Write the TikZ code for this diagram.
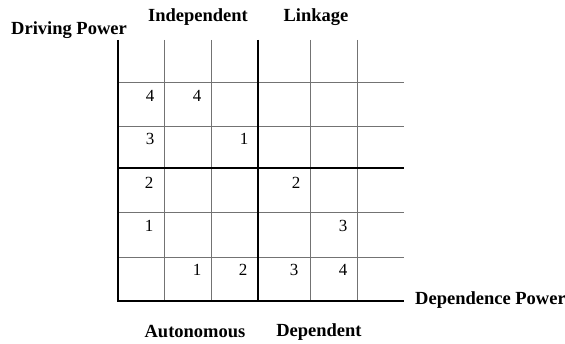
\documentclass[tikz,border=0pt]{standalone}
\usepackage{fontspec}
\setmainfont{Liberation Serif}
\begin{document}
\begin{tikzpicture}[x=1pt,y=-1pt,
  thin grid/.style={draw=black!55,line width=0.9pt},
  thick axis/.style={draw=black,line width=2.6pt},
  num/.style={font=\fontsize{17}{17}\selectfont,inner sep=0pt},
  lbl/.style={font=\fontsize{18.5}{18.5}\selectfont\bfseries,inner sep=0pt}]
\useasboundingbox (0,0) rectangle (565,344);
% thin grid lines
\foreach \x in {164,211,310,357} \draw[thin grid] (\x,40) -- (\x,301);
\foreach \y in {82,126,212,257} \draw[thin grid] (118,\y) -- (404,\y);
% thick lines
\draw[thick axis] (258,40) -- (258,301);
\draw[thick axis] (118,168) -- (404,168);
\draw[thick axis] (118,40) -- (118,301) -- (404,301);
% numbers
\node[num] (n1) at (150,96) {4};
\node[num] (n2) at (197,96) {4};
\node[num] (n3) at (150,139) {3};
\node[num] (n4) at (244,139) {1};
\node[num] (n5) at (149,183) {2};
\node[num] (n6) at (296,183) {2};
\node[num] (n7) at (149,226) {1};
\node[num] (n8) at (343,226) {3};
\node[num] (n9) at (197,270) {1};
\node[num] (n10) at (243,270) {2};
\node[num] (n11) at (294,270) {3};
\node[num] (n12) at (343,270) {4};
% labels
\node[lbl] (dp) at (69,30) {Driving Power};
\node[lbl] (ind) at (198,17) {Independent};
\node[lbl] (lin) at (316,17) {Linkage};
\node[lbl,anchor=west] (dep) at (415,300) {Dependence Power};
\node[lbl] (aut) at (195,332) {Autonomous};
\node[lbl] (dpt) at (319,332) {Dependent};
\end{tikzpicture}
\end{document}
